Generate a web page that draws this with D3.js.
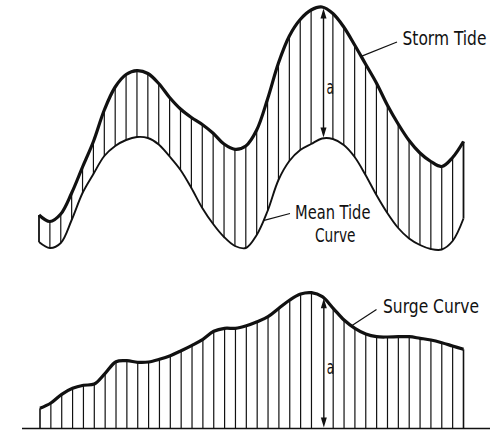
<!DOCTYPE html>
<html>
<head>
<meta charset="utf-8">
<script src="https://cdn.jsdelivr.net/npm/d3@7"></script>
<style>
  html, body { margin: 0; padding: 0; background: #fff; }
  svg { display: block; }
  text { font-family: "DejaVu Sans Condensed", "Liberation Sans Narrow", "DejaVu Sans", sans-serif; fill: #111; }
</style>
</head>
<body>
<svg id="chart" width="490" height="433"></svg>
<script>
// Hatch stations along the time axis, shared by both panels
const stations = d3.range(40);

// Upper panel: water level of the storm tide and of the mean tide at each station
const stormTide = [35, 28.5, 36, 57, 83, 108.5, 140, 163, 175.5, 179.3, 176.5, 166.5, 152.5, 141, 132.5,
  125.5, 116.7, 106, 100.7, 104, 120, 151, 187, 214, 230.5, 240, 243, 236.5, 223, 205,
  186, 167, 145, 126, 109.5, 97, 88.5, 83.5, 92.5, 108.5];
const meanTide = [8, 2, 7, 30, 57, 76, 94, 104, 110, 113, 112, 105.5, 93.5, 80, 62,
  42, 26, 13, 4, 2, 15, 39, 70, 89, 100, 106, 111.5, 111, 105, 93,
  75, 55, 37, 22, 11.5, 5, 1, 0.5, 9, 31.5];

// Lower panel: surge height above the base line at each station
const surge = [20.2, 25.5, 34.2, 40.2, 43.2, 44.5, 55.2, 66.8, 67.8, 66.2, 66.5, 69.2, 72.8, 77.8, 83.2,
  89.2, 97.2, 100.2, 100.2, 102.8, 106.8, 111.8, 120.2, 128.5, 134.5, 135.8, 131.8, 120.2, 108.5, 100.2,
  94.5, 91.8, 91.5, 91.8, 91.8, 90.2, 88.5, 85.8, 82.5, 79.2];

// Station where the height "a" is measured
const arrowStation = 26;

// Annotation texts
const stormLabel = "Storm Tide";
const meanLabel = ["Mean Tide", "Curve"];
const surgeLabel = "Surge Curve";
const heightLabel = "a";

const svg = d3.select("#chart");

const x = d3.scaleLinear().domain([0, 39]).range([39, 463.5]);
const xLow = d3.scaleLinear().domain([0, 39]).range([40, 463.5]);
const yTop = d3.scaleLinear().domain([0, 245]).range([250, 5]);
const yLow = d3.scaleLinear().domain([0, 140]).range([428.5, 288.5]);

// linear read-off of a series between stations (for leader line anchors)
function levelAt(series, t) {
  const i = Math.min(Math.floor(t), series.length - 2);
  const f = t - i;
  return series[i] * (1 - f) + series[i + 1] * f;
}

// narrow lettering: set the text, then squeeze it horizontally to the wanted width
function label(g, str, tx, ty, size, width) {
  const t = g.append("text").attr("font-size", size).text(str);
  const w = t.node().getComputedTextLength();
  t.attr("transform", `translate(${tx},${ty}) scale(${width / w},1)`);
  return t;
}

const curve = d3.curveCatmullRom.alpha(0.5);

// ---------- Upper panel ----------
const gTop = svg.append("g");

gTop.selectAll("line.hatch")
  .data(stations.filter(i => i !== arrowStation))
  .join("line")
  .attr("class", "hatch")
  .attr("x1", i => x(i)).attr("x2", i => x(i))
  .attr("y1", i => yTop(stormTide[i])).attr("y2", i => yTop(meanTide[i]))
  .attr("stroke", "#111")
  .attr("stroke-width", i => (i === 0 || i === 39) ? 1.8 : 1.2);

gTop.append("path")
  .datum(stations)
  .attr("d", d3.line().x(i => x(i)).y(i => yTop(meanTide[i])).curve(curve))
  .attr("fill", "none").attr("stroke", "#111").attr("stroke-width", 1.9);

gTop.append("path")
  .datum(stations)
  .attr("d", d3.line().x(i => x(i)).y(i => yTop(stormTide[i])).curve(curve))
  .attr("fill", "none").attr("stroke", "#111").attr("stroke-width", 3.2)
  .attr("stroke-linejoin", "round");

// ---------- Lower panel ----------
const gLow = svg.append("g");

gLow.append("line")
  .attr("x1", 22).attr("x2", 490)
  .attr("y1", yLow(0)).attr("y2", yLow(0))
  .attr("stroke", "#111").attr("stroke-width", 1.5);

gLow.selectAll("line.hatch")
  .data(stations.filter(i => i !== arrowStation))
  .join("line")
  .attr("class", "hatch")
  .attr("x1", i => xLow(i)).attr("x2", i => xLow(i))
  .attr("y1", i => yLow(surge[i])).attr("y2", yLow(0))
  .attr("stroke", "#111")
  .attr("stroke-width", i => (i === 0 || i === 39) ? 1.6 : 1.2);

gLow.append("path")
  .datum(stations)
  .attr("d", d3.line().x(i => xLow(i)).y(i => yLow(surge[i])).curve(curve))
  .attr("fill", "none").attr("stroke", "#111").attr("stroke-width", 3.2)
  .attr("stroke-linejoin", "round");

// ---------- Double arrows for the height a ----------
function doubleArrow(g, ax, yA, yB) {
  const head = 10, half = 3;
  g.append("line")
    .attr("x1", ax).attr("x2", ax)
    .attr("y1", yA + head - 1).attr("y2", yB - head + 1)
    .attr("stroke", "#111").attr("stroke-width", 1.4);
  g.append("path")
    .attr("d", `M${ax},${yA} L${ax - half},${yA + head} L${ax + half},${yA + head} Z`)
    .attr("fill", "#111");
  g.append("path")
    .attr("d", `M${ax},${yB} L${ax - half},${yB - head} L${ax + half},${yB - head} Z`)
    .attr("fill", "#111");
}

const axTop = x(arrowStation) + 1.5;
doubleArrow(gTop, axTop, yTop(stormTide[arrowStation]) + 1.5, yTop(meanTide[arrowStation]) - 1);
label(gTop, heightLabel, axTop + 3, 94, 19, 7.5);

const axLow = xLow(arrowStation) + 1.5;
doubleArrow(gLow, axLow, yLow(surge[arrowStation]) + 1.5, yLow(0) - 1);
label(gLow, heightLabel, axLow + 3, 374, 19, 7.5);

// ---------- Labels with leader lines ----------
function leader(g, series, t, xs, ys, ex, ey) {
  g.append("line")
    .attr("x1", xs(t)).attr("y1", ys(levelAt(series, t)))
    .attr("x2", ex).attr("y2", ey)
    .attr("stroke", "#111").attr("stroke-width", 1.2);
}

leader(gTop, stormTide, 29.6, x, yTop, 397, 42);
label(gTop, stormLabel, 402.5, 45, 20, 84);

leader(gTop, meanTide, 20.6, x, yTop, 290, 213.5);
label(gTop, meanLabel[0], 295, 218.5, 20, 75.5);
label(gTop, meanLabel[1], 315, 241.5, 20, 40.5);

leader(gLow, surge, 28.7, xLow, yLow, 376.5, 309.5);
label(gLow, surgeLabel, 383, 312.5, 20, 96);
</script>
</body>
</html>
